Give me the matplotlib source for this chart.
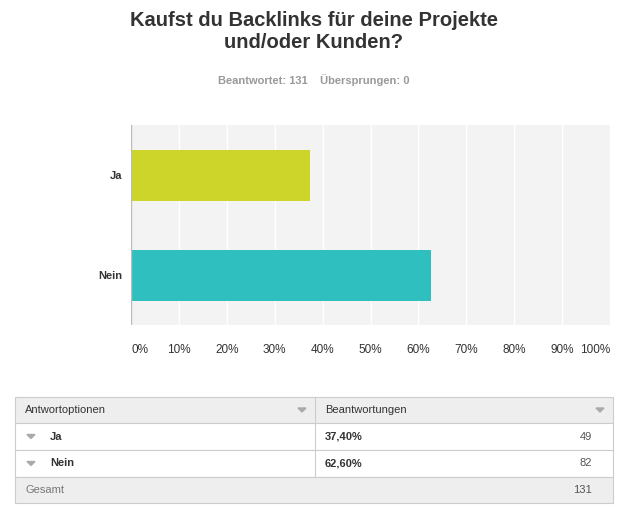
import matplotlib
matplotlib.use("Agg")
import matplotlib.pyplot as plt
from matplotlib.patches import Rectangle, Polygon

plt.rcParams["font.family"] = "Liberation Sans"

categories = ["Ja", "Nein"]
percent = [37.40, 62.60]
counts = [49, 82]
total = 131
bar_colors = ["#cdd52a", "#30bfbf"]
ticks = [0, 10, 20, 30, 40, 50, 60, 70, 80, 90, 100]
tick_labels = [f"{t}%" for t in ticks]

W, H = 633, 516
fig = plt.figure(figsize=(W/100, H/100), dpi=100)
fig.patch.set_facecolor("white")

ax = fig.add_axes([131/W, 1-325/H, (610-131)/W, 200/H])
ax.set_facecolor("#f3f3f3")
ax.barh([0, 1], percent, height=0.51, color=bar_colors, zorder=3)
ax.set_xlim(0, 100)
ax.set_ylim(1.5, -0.5)
ax.set_yticks([0, 1])
ax.set_yticklabels(categories, fontsize=8, fontweight="bold", color="#333333")
ax.set_xticks(ticks)
ax.set_xticklabels(tick_labels, fontsize=8.5, color="#333333")
for lbl in ax.get_xticklabels()[:1]:
    lbl.set_horizontalalignment("left")
for lbl in ax.get_xticklabels()[-1:]:
    lbl.set_horizontalalignment("right")
ax.tick_params(length=0, pad=14, axis="x")
ax.tick_params(length=0, pad=6, axis="y")
ax.grid(axis="x", color="white", linewidth=1, zorder=0)
for s in ax.spines.values():
    s.set_visible(False)
ax.axvline(0, color="#bbbbbb", linewidth=1, zorder=4)

o = fig.add_axes([0, 0, 1, 1])
o.set_xlim(0, W); o.set_ylim(H, 0); o.axis("off")

o.text(314, 32, "Kaufst du Backlinks für deine Projekte\nund/oder Kunden?", ha="center", va="center",
       fontsize=14.5, fontweight="bold", color="#333333", linespacing=1.2)
o.text(314, 80, "Beantwortet: 131    Übersprungen: 0", ha="center", va="center",
       fontsize=8, fontweight="bold", color="#999999")

L, M, R = 15, 315, 613
rows = [397, 423, 450, 477, 503]
for i in range(4):
    fc = "#eeeeee" if i in (0, 3) else "white"
    o.add_patch(Rectangle((L, rows[i]), R-L, rows[i+1]-rows[i], facecolor=fc,
                          edgecolor="#cccccc", linewidth=0.8))
o.plot([M, M], [rows[0], rows[3]], color="#cccccc", linewidth=0.8)

def tri(x, y):
    o.add_patch(Polygon([[x-4, y-2], [x+4, y-2], [x, y+2]], closed=True, color="#aaaaaa"))

o.text(25, 410, "Antwortoptionen", va="center", fontsize=8, color="#333333")
o.text(325, 410, "Beantwortungen", va="center", fontsize=8, color="#333333")
tri(302, 410); tri(600, 410)
for i, (c, p, n) in enumerate(zip(categories, percent, counts)):
    y = (rows[i+1] + rows[i+2]) / 2
    tri(31, y)
    o.text(50, y, c, va="center", fontsize=8, fontweight="bold", color="#333333")
    o.text(325, y, f"{p:.2f}%".replace(".", ","), va="center", fontsize=8, fontweight="bold", color="#333333")
    o.text(592, y, str(n), va="center", ha="right", fontsize=8, color="#555555")
o.text(25, 490, "Gesamt", va="center", fontsize=8, color="#777777")
o.text(592, 490, str(total), va="center", ha="right", fontsize=8, color="#555555")

fig.savefig("out.png", dpi=100)
